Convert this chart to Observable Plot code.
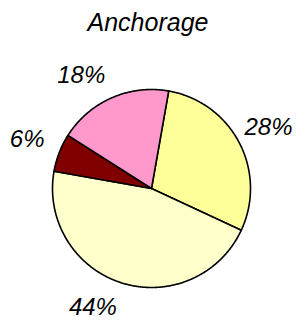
<!DOCTYPE html>
<html><head><meta charset="utf-8">
<script src="https://cdn.jsdelivr.net/npm/d3@7"></script>
<script src="https://cdn.jsdelivr.net/npm/@observablehq/plot@0.6"></script>
<style>
body{margin:0;background:#fff;}
#title{width:296px;height:36px;box-sizing:border-box;padding-top:10px;text-align:center;font:italic 25px/24px "Liberation Sans",Arial,sans-serif;color:#000;}
</style></head><body>
<div id="title"></div>
<div id="chart"></div>
<script>
const title = "Anchorage";
const categories = ["Slice 1", "Slice 2", "Slice 3", "Slice 4"];
const values = [28, 44, 6, 18];
const labels = ["28%", "44%", "6%", "18%"];
const colors = ["#ffff99", "#ffffcc", "#800000", "#ff99cc"];

document.getElementById("title").textContent = title;

const W = 296, H = 284, R = 99, CX = 151, CY = 152;
const startDeg = 10;
const FS = 24, FONT = "Liberation Sans, Arial, sans-serif";
const table = categories.map((c, i) => ({cat: c, value: values[i], label: labels[i]}));
const arcs = d3.pie().sort(null).value(d => d.value)
  .startAngle(startDeg * Math.PI / 180).endAngle((startDeg + 360) * Math.PI / 180)(table);

const pts = [];
for (const a of arcs) {
  pts.push({cat: a.data.cat, x: 0, y: 0});
  const n = Math.max(2, Math.ceil((a.endAngle - a.startAngle) / (Math.PI / 360)));
  for (let k = 0; k <= n; k++) {
    const t = a.startAngle + (a.endAngle - a.startAngle) * k / n;
    pts.push({cat: a.data.cat, x: Math.sin(t), y: Math.cos(t)});
  }
}
const ctx = document.createElement("canvas").getContext("2d");
ctx.font = `italic ${FS}px ${FONT}`;
const LR = 1.16;
const lab = arcs.map(a => {
  const m = (a.startAngle + a.endAngle) / 2;
  const sx = Math.sin(m), cy = Math.cos(m);
  const w = ctx.measureText(a.data.label).width + 3;
  let px = CX + R * LR * sx;
  if (sx >= 0) px = Math.min(px, W - 1 - w); else px = Math.max(px, 1 + w);
  return {label: a.data.label, x: (px - CX) / R, y: LR * cy, right: sx >= 0, up: cy >= 0};
});

const textOpts = {fontSize: FS, fontStyle: "italic", fontFamily: FONT, fill: "#000"};
const textMarks = [];
for (const right of [true, false]) for (const up of [true, false]) {
  textMarks.push(Plot.text(lab.filter(d => d.right === right && d.up === up), {
    x: "x", y: "y", text: "label",
    textAnchor: right ? "start" : "end",
    lineAnchor: up ? "bottom" : "top",
    ...textOpts
  }));
}

const chart = Plot.plot({
  width: W, height: H,
  marginTop: 0, marginBottom: 0, marginLeft: 0, marginRight: 0,
  x: {domain: [-CX / R, (W - CX) / R], axis: null},
  y: {domain: [(CY - H) / R, CY / R], axis: null},
  color: {domain: categories, range: colors},
  style: {background: "#fff", overflow: "visible"},
  marks: [
    Plot.line(pts, {x: "x", y: "y", z: "cat", fill: "cat", stroke: "#000", strokeWidth: 1.6, curve: "linear-closed", strokeLinejoin: "round"}),
    ...textMarks
  ]
});
document.getElementById("chart").appendChild(chart);
</script>
</body></html>
